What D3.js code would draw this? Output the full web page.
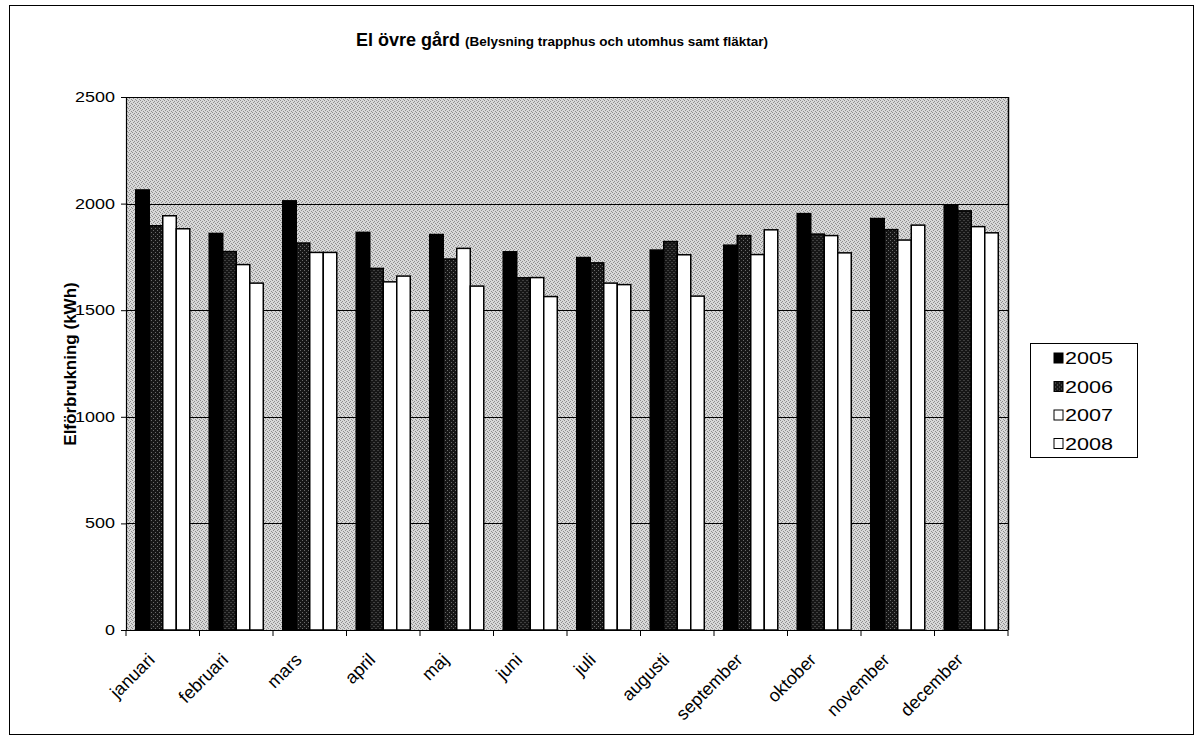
<!DOCTYPE html>
<html>
<head>
<meta charset="utf-8">
<script src="https://cdn.jsdelivr.net/npm/d3@7"></script>
<style>
  html, body { margin: 0; padding: 0; background: #fff; }
  svg { display: block; font-family: "Liberation Sans", Arial, sans-serif; }
</style>
</head>
<body>
<svg id="chart" width="1196" height="738"></svg>
<script>
// Monthly electricity use, kWh
const months = ["januari", "februari", "mars", "april", "maj", "juni",
                "juli", "augusti", "september", "oktober", "november", "december"];
const years = ["2005", "2006", "2007", "2008"];
const v2005 = [2064, 1860, 2013, 1865, 1855, 1774, 1747, 1782, 1805, 1953, 1930, 1990];
const v2006 = [1896, 1775, 1815, 1696, 1740, 1652, 1722, 1822, 1850, 1857, 1878, 1966];
const v2007 = [1943, 1714, 1771, 1633, 1790, 1653, 1627, 1760, 1761, 1850, 1829, 1892];
const v2008 = [1882, 1627, 1771, 1660, 1613, 1564, 1620, 1566, 1877, 1769, 1899, 1863];
const yTicks = [0, 500, 1000, 1500, 2000, 2500];

const series = [v2005, v2006, v2007, v2008];

const svg = d3.select("#chart");

// textures
const defs = svg.append("defs");
const bgPat = defs.append("pattern").attr("id", "bgStipple")
  .attr("width", 4).attr("height", 4).attr("patternUnits", "userSpaceOnUse");
bgPat.append("rect").attr("width", 4).attr("height", 4).attr("fill", "#d8d8d8");
[[0,0],[2,1],[1,2],[3,3]].forEach(([x,y]) =>
  bgPat.append("rect").attr("x", x).attr("y", y).attr("width", 1).attr("height", 1).attr("fill", "#8e8e8e"));

const darkPat = defs.append("pattern").attr("id", "darkStipple")
  .attr("width", 4).attr("height", 4).attr("patternUnits", "userSpaceOnUse");
darkPat.append("rect").attr("width", 4).attr("height", 4).attr("fill", "#161616");
[[1,0],[3,2]].forEach(([x,y]) =>
  darkPat.append("rect").attr("x", x).attr("y", y).attr("width", 1).attr("height", 1).attr("fill", "#6a6a6a"));

const fills = ["#000000", "url(#darkStipple)", "#ffffff", "#ffffff"];

// outer frame
svg.append("rect").attr("x", 9.5).attr("y", 5.5).attr("width", 1184).attr("height", 729)
  .attr("fill", "#fff").attr("stroke", "#000").attr("stroke-width", 1);

const plot = { left: 126, right: 1008, top: 97, bottom: 630 };

const x0 = d3.scaleBand().domain(months).range([plot.left, plot.right]).padding(0);
const x1 = d3.scaleBand().domain(years).range([0, x0.bandwidth()]).paddingInner(0).paddingOuter(0.72);
const y = d3.scaleLinear().domain([0, 2500]).range([plot.bottom, plot.top]);

// plot background
svg.append("rect").attr("x", plot.left).attr("y", plot.top)
  .attr("width", plot.right - plot.left).attr("height", plot.bottom - plot.top)
  .attr("fill", "url(#bgStipple)");

// gridlines
svg.append("g").selectAll("line").data(yTicks.filter(d => d > 0)).join("line")
  .attr("x1", plot.left).attr("x2", plot.right)
  .attr("y1", d => Math.round(y(d)) + 0.5).attr("y2", d => Math.round(y(d)) + 0.5)
  .attr("stroke", "#000").attr("stroke-width", 1);
// right border
svg.append("line").attr("x1", plot.right + 0.5).attr("x2", plot.right + 0.5)
  .attr("y1", plot.top).attr("y2", plot.bottom).attr("stroke", "#000").attr("stroke-width", 1.5);

// bars
const groups = svg.append("g").selectAll("g").data(months).join("g")
  .attr("transform", d => `translate(${x0(d)},0)`);
groups.selectAll("rect").data((m, i) => years.map((yr, k) => ({ yr, k, v: series[k][i] })))
  .join("rect")
  .attr("x", d => x1(d.yr))
  .attr("y", d => y(d.v))
  .attr("width", x1.bandwidth())
  .attr("height", d => y(0) - y(d.v))
  .attr("fill", d => fills[d.k])
  .attr("stroke", "#000").attr("stroke-width", 1.5);

// y axis
const yAxis = svg.append("g").attr("transform", `translate(${plot.left},0)`)
  .call(d3.axisLeft(y).tickValues(yTicks).tickSize(5).tickPadding(6).tickFormat(d3.format("d")));
yAxis.select(".domain").attr("stroke", "#000").attr("stroke-width", 1.2);
yAxis.selectAll("text").attr("font-size", 14).attr("fill", "#000")
  .attr("font-family", "Liberation Sans, Arial, sans-serif")
  .attr("textLength", d => String(d).length * 10).attr("lengthAdjust", "spacingAndGlyphs");

// x axis
const xAxis = svg.append("g").attr("transform", `translate(0,${plot.bottom})`);
xAxis.append("line").attr("x1", plot.left).attr("x2", plot.right)
  .attr("y1", 0.5).attr("y2", 0.5).attr("stroke", "#000").attr("stroke-width", 1.2);
xAxis.selectAll("line.tick").data(months.concat(["__end"])).join("line")
  .attr("class", "tick")
  .attr("x1", d => d === "__end" ? plot.right : x0(d))
  .attr("x2", d => d === "__end" ? plot.right : x0(d))
  .attr("y1", 0).attr("y2", 6).attr("stroke", "#000");
xAxis.selectAll("text").data(months).join("text")
  .attr("transform", d => `translate(${x0(d) + x0.bandwidth() / 2 - 7},31) rotate(-45)`)
  .attr("text-anchor", "end")
  .attr("font-size", 18)
  .attr("fill", "#000")
  .text(d => d);

// title
const title = svg.append("text").attr("x", 562).attr("y", 46).attr("text-anchor", "middle")
  .attr("font-weight", "bold").attr("fill", "#000");
title.append("tspan").attr("font-size", 18).text("El övre gård ");
title.append("tspan").attr("font-size", 13.5).text("(Belysning trapphus och utomhus samt fläktar)");

// y axis title
svg.append("text").attr("transform", `translate(76,364) rotate(-90)`)
  .attr("text-anchor", "middle").attr("font-weight", "bold").attr("font-size", 17)
  .attr("fill", "#000").text("Elförbrukning (kWh)");

// legend
const lg = svg.append("g");
lg.append("rect").attr("x", 1030.5).attr("y", 343.5).attr("width", 107).attr("height", 114)
  .attr("fill", "#fff").attr("stroke", "#000").attr("stroke-width", 1);
const rows = lg.selectAll("g.row").data(years).join("g").attr("class", "row")
  .attr("transform", (d, i) => `translate(1054,${358 + i * 28.5})`);
rows.append("rect").attr("x", 0).attr("y", -5).attr("width", 9).attr("height", 10)
  .attr("fill", (d, i) => fills[i]).attr("stroke", "#000").attr("stroke-width", 1);
rows.append("text").attr("x", 11).attr("y", 6).attr("font-size", 16).attr("fill", "#000")
  .attr("textLength", 48).attr("lengthAdjust", "spacingAndGlyphs")
  .text(d => d);
</script>
</body>
</html>
